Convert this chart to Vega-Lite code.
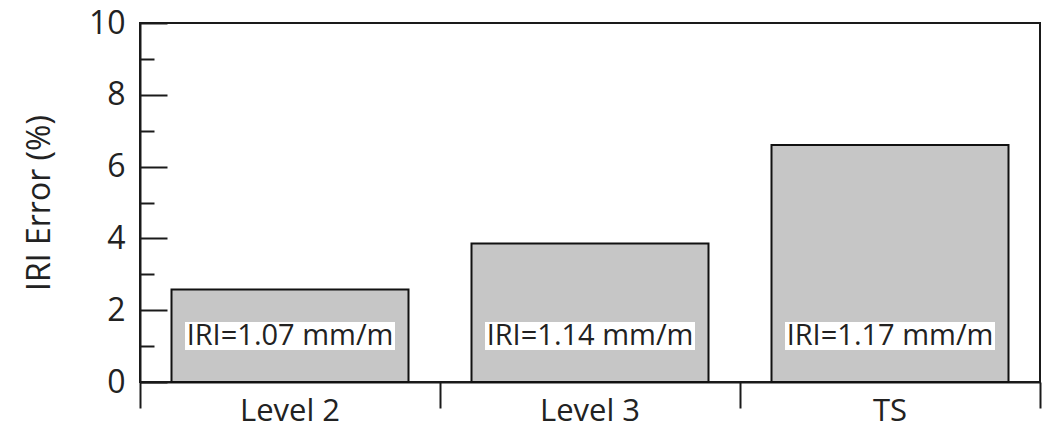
{
  "$schema": "https://vega.github.io/schema/vega-lite/v6.json",
  "autosize": {"type": "none"},
  "width": 900,
  "height": 359,
  "padding": {"left": 140, "top": 23, "right": 10, "bottom": 50},
  "background": "white",
  "config": {
    "view": {"stroke": "#1a1a1a", "strokeWidth": 2},
    "font": "Open Sans",
    "axis": {"grid": false}
  },
  "data": {
    "values": [
      {"level": "Level 2", "error": 2.58, "label": "IRI=1.07 mm/m"},
      {"level": "Level 3", "error": 3.86, "label": "IRI=1.14 mm/m"},
      {"level": "TS", "error": 6.6, "label": "IRI=1.17 mm/m"}
    ]
  },
  "encoding": {
    "x": {
      "field": "level",
      "type": "nominal",
      "sort": null,
      "scale": {"paddingInner": 0, "paddingOuter": 0},
      "axis": {
        "title": null,
        "bandPosition": 1,
        "tickExtra": true,
        "tickSize": 26,
        "tickWidth": 2,
        "tickColor": "#1a1a1a",
        "domainColor": "#1a1a1a",
        "domainWidth": 2,
        "labelFontSize": 31,
        "labelColor": "#222222",
        "labelAngle": 0,
        "labelPadding": -12
      }
    }
  },
  "layer": [
    {
      "mark": {"type": "bar", "fill": "#c6c6c6", "stroke": "#111111", "strokeWidth": 2, "width": {"band": 0.79}},
      "encoding": {
        "y": {
          "field": "error",
          "type": "quantitative",
          "scale": {"domain": [0, 10], "nice": false},
          "axis": {
            "orient": "left",
            "title": "IRI Error (%)",
            "values": [0, 2, 4, 6, 8, 10],
            "tickSize": -27,
            "tickWidth": 2,
            "tickColor": "#1a1a1a",
            "domainColor": "#1a1a1a",
            "domainWidth": 2,
            "labelFontSize": 32,
            "labelColor": "#222222",
            "labelPadding": 42,
            "titleFontSize": 32,
            "titleFontWeight": "normal",
            "titleColor": "#222222",
            "titlePadding": 32
          }
        }
      }
    },
    {
      "mark": {"type": "bar", "fill": "white", "width": {"band": 0.7}},
      "encoding": {
        "y": {
          "datum": 0.89,
          "axis": {
            "orient": "left",
            "title": null,
            "values": [1, 3, 5, 7, 9],
            "tickSize": -14,
            "tickWidth": 2,
            "tickColor": "#1a1a1a",
            "domain": false,
            "labels": false
          }
        },
        "y2": {"datum": 1.67}
      }
    },
    {
      "mark": {"type": "text", "fontSize": 29, "color": "#222222"},
      "encoding": {"y": {"datum": 1.28, "axis": null}, "text": {"field": "label"}}
    }
  ],
  "resolve": {"axis": {"y": "independent"}}
}
